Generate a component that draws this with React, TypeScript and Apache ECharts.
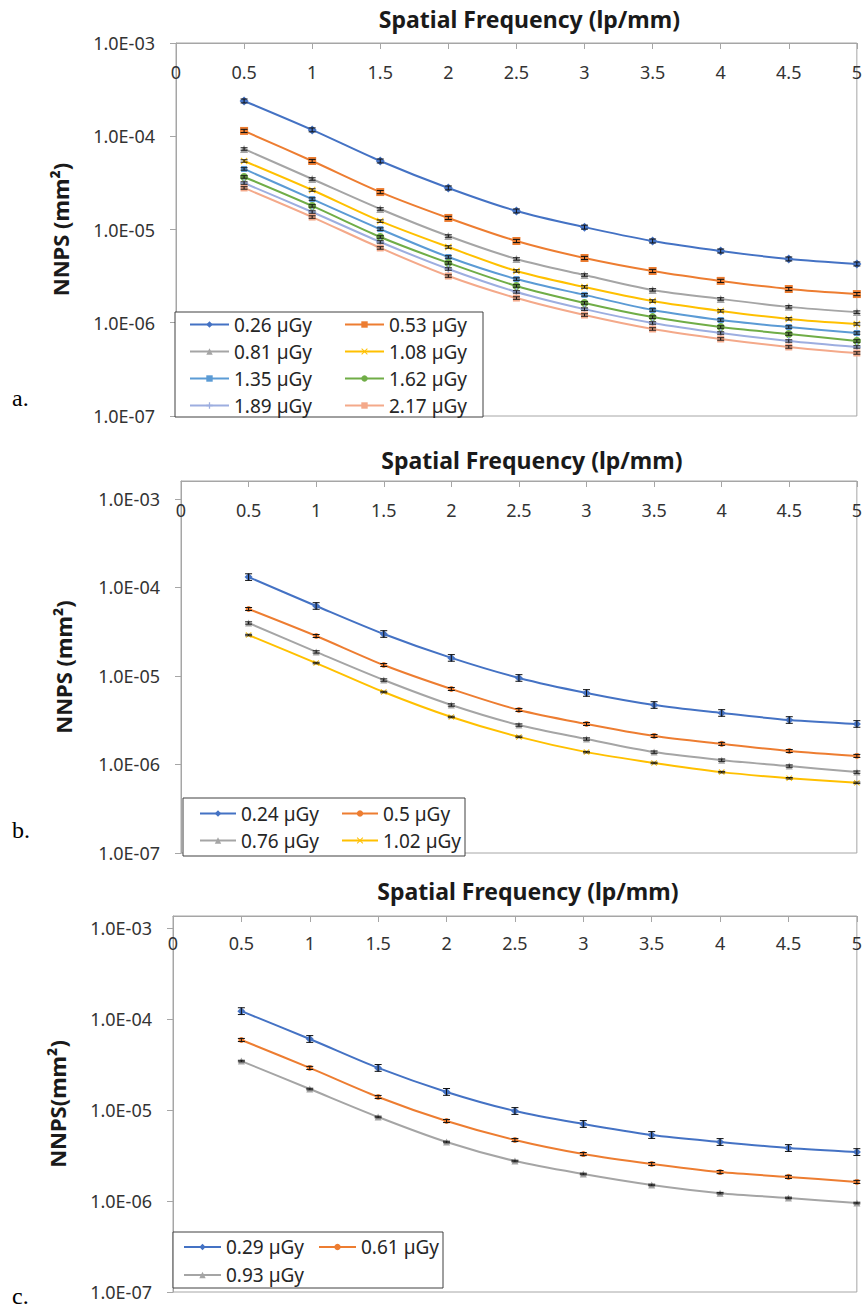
import React, { useEffect, useRef } from "react";
import * as echarts from "echarts";

// Spatial frequency (lp/mm)
const freqs = [0.5, 1, 1.5, 2, 2.5, 3, 3.5, 4, 4.5, 5];
const xTicks = [0, 0.5, 1, 1.5, 2, 2.5, 3, 3.5, 4, 4.5, 5];
const yTicks = [1e-7, 1e-6, 1e-5, 1e-4, 1e-3];

// Panel a
const aNames = ["0.26 µGy", "0.53 µGy", "0.81 µGy", "1.08 µGy", "1.35 µGy", "1.62 µGy", "1.89 µGy", "2.17 µGy"];
const a026 = [2.39e-4, 1.17e-4, 5.43e-5, 2.79e-5, 1.58e-5, 1.06e-5, 7.53e-6, 5.88e-6, 4.83e-6, 4.27e-6];
const a053 = [1.14e-4, 5.43e-5, 2.52e-5, 1.33e-5, 7.53e-6, 4.95e-6, 3.59e-6, 2.81e-6, 2.30e-6, 2.03e-6];
const a081 = [7.30e-5, 3.48e-5, 1.66e-5, 8.51e-6, 4.83e-6, 3.25e-6, 2.25e-6, 1.80e-6, 1.48e-6, 1.30e-6];
const a108 = [5.43e-5, 2.65e-5, 1.23e-5, 6.49e-6, 3.59e-6, 2.42e-6, 1.71e-6, 1.34e-6, 1.10e-6, 9.7e-7];
const a135 = [4.46e-5, 2.12e-5, 1.01e-5, 5.07e-6, 2.94e-6, 1.99e-6, 1.37e-6, 1.07e-6, 9.0e-7, 7.76e-7];
const a162 = [3.66e-5, 1.79e-5, 8.31e-6, 4.38e-6, 2.48e-6, 1.63e-6, 1.15e-6, 9.0e-7, 7.57e-7, 6.37e-7];
const a189 = [3.15e-5, 1.54e-5, 7.35e-6, 3.77e-6, 2.14e-6, 1.40e-6, 9.94e-7, 7.76e-7, 6.37e-7, 5.50e-7];
const a217 = [2.79e-5, 1.36e-5, 6.34e-6, 3.17e-6, 1.84e-6, 1.21e-6, 8.57e-7, 6.70e-7, 5.50e-7, 4.74e-7];
const aErr = [0.05, 0.04, 0.03, 0.03, 0.03, 0.03, 0.03, 0.03];

// Panel b
const bNames = ["0.24 µGy", "0.5 µGy", "0.76 µGy", "1.02 µGy"];
const b024 = [1.31e-4, 6.18e-5, 2.98e-5, 1.60e-5, 9.5e-6, 6.43e-6, 4.70e-6, 3.82e-6, 3.18e-6, 2.87e-6];
const b050 = [5.71e-5, 2.83e-5, 1.33e-5, 7.13e-6, 4.13e-6, 2.87e-6, 2.10e-6, 1.71e-6, 1.42e-6, 1.25e-6];
const b076 = [3.97e-5, 1.87e-5, 9.0e-6, 4.70e-6, 2.79e-6, 1.94e-6, 1.38e-6, 1.12e-6, 9.6e-7, 8.2e-7];
const b102 = [2.90e-5, 1.40e-5, 6.59e-6, 3.44e-6, 2.05e-6, 1.38e-6, 1.04e-6, 8.2e-7, 7.0e-7, 6.2e-7];
const bErr = [0.09, 0.04, 0.03, 0.02];

// Panel c
const cNames = ["0.29 µGy", "0.61 µGy", "0.93 µGy"];
const c029 = [1.22e-4, 6.03e-5, 2.90e-5, 1.58e-5, 9.75e-6, 7.02e-6, 5.31e-6, 4.45e-6, 3.82e-6, 3.45e-6];
const c061 = [5.88e-5, 2.90e-5, 1.39e-5, 7.57e-6, 4.68e-6, 3.28e-6, 2.55e-6, 2.08e-6, 1.84e-6, 1.62e-6];
const c093 = [3.45e-5, 1.70e-5, 8.38e-6, 4.45e-6, 2.75e-6, 1.98e-6, 1.50e-6, 1.22e-6, 1.08e-6, 9.5e-7];
const cErr = [0.09, 0.04, 0.02];

const C_BLUE = "#4472C4";
const C_ORANGE = "#ED7D31";
const C_GRAY = "#A5A5A5";
const C_YELLOW = "#FFC000";
const C_LBLUE = "#5B9BD5";
const C_GREEN = "#70AD47";
const C_LAV = "#9DAEE0";
const C_PINK = "#F4A98A";

const SYM_X = "path://M1,0L5,4L9,0L10,1L6,5L10,9L9,10L5,6L1,10L0,9L4,5L0,1Z";
const SYM_PLUS = "path://M4,0H6V4H10V6H6V10H4V6H0V4H4Z";
const SYM_DASH = "path://M0,4H10V6H0Z";

const FONT = "'Noto Sans', 'Open Sans', sans-serif";

function fmtE(v: number) {
  const s = v.toExponential(1);
  const [m, e] = s.split("e");
  const n = parseInt(e, 10);
  return `${m}E${n < 0 ? "-" : "+"}${String(Math.abs(n)).padStart(2, "0")}`;
}

type Panel = {
  grid: { left: number; top: number; width: number; height: number };
  yMax: number;
  names: string[];
  values: number[][];
  errs: number[];
  colors: string[];
  symbols: string[];
  symbolSizes: number[];
  yName: string;
  yNameGap: number;
  xNameGap: number;
  xLabelMargin: number;
  legend: {
    left: number;
    top: number;
    itemWidth: number;
    w1: number;
    w2: number;
    lineHeight: number;
    padding: number[];
  };
};

const panels: Panel[] = [
  {
    grid: { left: 176, top: 43, width: 687, height: 373 },
    yMax: 1e-3,
    names: aNames,
    values: [a026, a053, a081, a108, a135, a162, a189, a217],
    errs: aErr,
    colors: [C_BLUE, C_ORANGE, C_GRAY, C_YELLOW, C_LBLUE, C_GREEN, C_LAV, C_PINK],
    symbols: ["diamond", "rect", "triangle", SYM_X, "rect", "circle", SYM_PLUS, SYM_DASH],
    symbolSizes: [9, 8, 8, 7, 6, 8, 8, 7],
    yName: "NNPS (mm²)",
    yNameGap: 105,
    xNameGap: 13,
    xLabelMargin: 20,
    legend: { left: 175, top: 312, itemWidth: 39, w1: 102, w2: 90, lineHeight: 19, padding: [3, 4, 2, 14] },
  },
  {
    grid: { left: 181, top: 481, width: 681, height: 372 },
    yMax: Math.pow(10, -2.797),
    names: bNames,
    values: [b024, b050, b076, b102],
    errs: bErr,
    colors: [C_BLUE, C_ORANGE, C_GRAY, C_YELLOW],
    symbols: ["diamond", "circle", "triangle", SYM_X],
    symbolSizes: [8, 6, 7, 6],
    yName: "NNPS (mm²)",
    yNameGap: 107,
    xNameGap: 10,
    xLabelMargin: 20,
    legend: { left: 183, top: 798, itemWidth: 36, w1: 92, w2: 78, lineHeight: 17, padding: [6, 4, 6, 16] },
  },
  {
    grid: { left: 173, top: 916, width: 689, height: 376 },
    yMax: Math.pow(10, -2.868),
    names: cNames,
    values: [c029, c061, c093],
    errs: cErr,
    colors: [C_BLUE, C_ORANGE, C_GRAY],
    symbols: ["diamond", "circle", "triangle"],
    symbolSizes: [8, 6, 7],
    yName: "NNPS(mm²)",
    yNameGap: 105,
    xNameGap: 14,
    xLabelMargin: 18,
    legend: { left: 173, top: 1232, itemWidth: 37, w1: 84, w2: 78, lineHeight: 20, padding: [5, 4, 3, 10] },
  },
];

function buildOption() {
  const grid: any[] = [];
  const xAxis: any[] = [];
  const yAxis: any[] = [];
  const legend: any[] = [];
  const series: any[] = [];

  panels.forEach((p, pi) => {
    grid.push({ ...p.grid, show: true, borderColor: "#A6A6A6", borderWidth: 1, backgroundColor: "transparent" });
    xAxis.push({
      type: "value",
      gridIndex: pi,
      position: "top",
      min: 0,
      max: 5,
      interval: 0.5,
      name: "Spatial Frequency (lp/mm)",
      nameLocation: "middle",
      nameGap: p.xNameGap,
      nameTextStyle: { fontFamily: FONT, fontWeight: "bold", fontSize: 23, color: "#1a1a1a", padding: [0, 0, 0, 26] },
      axisLine: { show: true, onZero: false, lineStyle: { color: "#A6A6A6", width: 1 } },
      axisTick: { show: true, inside: true, length: 6, lineStyle: { color: "#A6A6A6" } },
      axisLabel: {
        inside: true,
        margin: p.xLabelMargin,
        fontFamily: FONT,
        fontSize: 18,
        color: "#333",
        showMinLabel: true,
        showMaxLabel: true,
        formatter: (v: number) => String(xTicks.find((t) => Math.abs(t - v) < 1e-9) ?? v),
      },
      splitLine: { show: false },
    });
    yAxis.push({
      type: "log",
      logBase: 10,
      gridIndex: pi,
      min: yTicks[0],
      max: p.yMax,
      name: p.yName,
      nameLocation: "middle",
      nameGap: p.yNameGap,
      nameTextStyle: { fontFamily: FONT, fontWeight: "bold", fontSize: 22, color: "#1a1a1a" },
      axisLine: { show: true, onZero: false, lineStyle: { color: "#A6A6A6", width: 1 } },
      axisTick: { show: true, inside: false, length: 6, lineStyle: { color: "#A6A6A6" } },
      axisLabel: {
        margin: 21,
        fontFamily: FONT,
        fontSize: 18,
        color: "#333",
        showMinLabel: true,
        showMaxLabel: pi === 0,
        formatter: (v: number) => fmtE(v),
      },
      splitLine: { show: false },
      minorTick: { show: false },
    });
    const L = p.legend;
    legend.push({
      left: L.left,
      top: L.top,
      orient: "horizontal",
      width: L.itemWidth * 2 + 10 + L.w1 + L.w2 + 8 + 20,
      itemWidth: L.itemWidth,
      itemHeight: 8,
      itemGap: 8,
      padding: L.padding,
      borderColor: "#404040",
      borderWidth: 1,
      borderRadius: 0,
      backgroundColor: "#ffffff",
      selectedMode: false,
      textStyle: { fontFamily: FONT, fontSize: 19, color: "#262626", lineHeight: L.lineHeight },
      data: p.names.map((n, i) => ({ name: n, textStyle: { width: i % 2 === 0 ? L.w1 : L.w2 } })),
    });
    p.names.forEach((n, si) => {
      const vals = p.values[si];
      series.push({
        type: "line",
        name: n,
        xAxisIndex: pi,
        yAxisIndex: pi,
        data: freqs.map((f, i) => [f, vals[i]]),
        smooth: 0.3,
        symbol: p.symbols[si],
        symbolSize: p.symbolSizes[si],
        showSymbol: true,
        lineStyle: { width: 2, color: p.colors[si] },
        itemStyle: { color: p.colors[si], borderWidth: 0 },
        z: 2,
      });
      series.push({
        type: "custom",
        xAxisIndex: pi,
        yAxisIndex: pi,
        silent: true,
        z: 3,
        encode: { x: 0, y: 1 },
        data: freqs.map((f, i) => [f, vals[i], p.errs[si]]),
        renderItem: (params: any, api: any) => {
          const x = api.value(0);
          const y = api.value(1);
          const e = api.value(2);
          const top = api.coord([x, y * (1 + e)]);
          const bot = api.coord([x, y / (1 + e)]);
          const hw = 3.5;
          const st = { stroke: "#111", lineWidth: 1 };
          return {
            type: "group",
            children: [
              { type: "line", shape: { x1: top[0], y1: top[1], x2: bot[0], y2: bot[1] }, style: st },
              { type: "line", shape: { x1: top[0] - hw, y1: top[1], x2: top[0] + hw, y2: top[1] }, style: st },
              { type: "line", shape: { x1: bot[0] - hw, y1: bot[1], x2: bot[0] + hw, y2: bot[1] }, style: st },
            ],
          };
        },
      });
    });
  });

  const graphic = [
    { type: "text", left: 12, top: 386, style: { text: "a.", font: "24px 'Liberation Serif', 'Times New Roman', serif", fill: "#000" } },
    { type: "text", left: 12, top: 818, style: { text: "b.", font: "24px 'Liberation Serif', 'Times New Roman', serif", fill: "#000" } },
    { type: "text", left: 12, top: 1284, style: { text: "c.", font: "24px 'Liberation Serif', 'Times New Roman', serif", fill: "#000" } },
  ];

  return {
    animation: false,
    backgroundColor: "#ffffff",
    grid,
    xAxis,
    yAxis,
    legend,
    series,
    graphic,
  };
}

export default function App() {
  const ref = useRef<HTMLDivElement>(null);
  useEffect(() => {
    document.body.style.margin = "0";
    if (!ref.current) return;
    const chart = echarts.init(ref.current, undefined, { renderer: "svg" });
    chart.setOption(buildOption() as any);
    return () => chart.dispose();
  }, []);
  return <div ref={ref} style={{ width: 865, height: 1309 }} />;
}
